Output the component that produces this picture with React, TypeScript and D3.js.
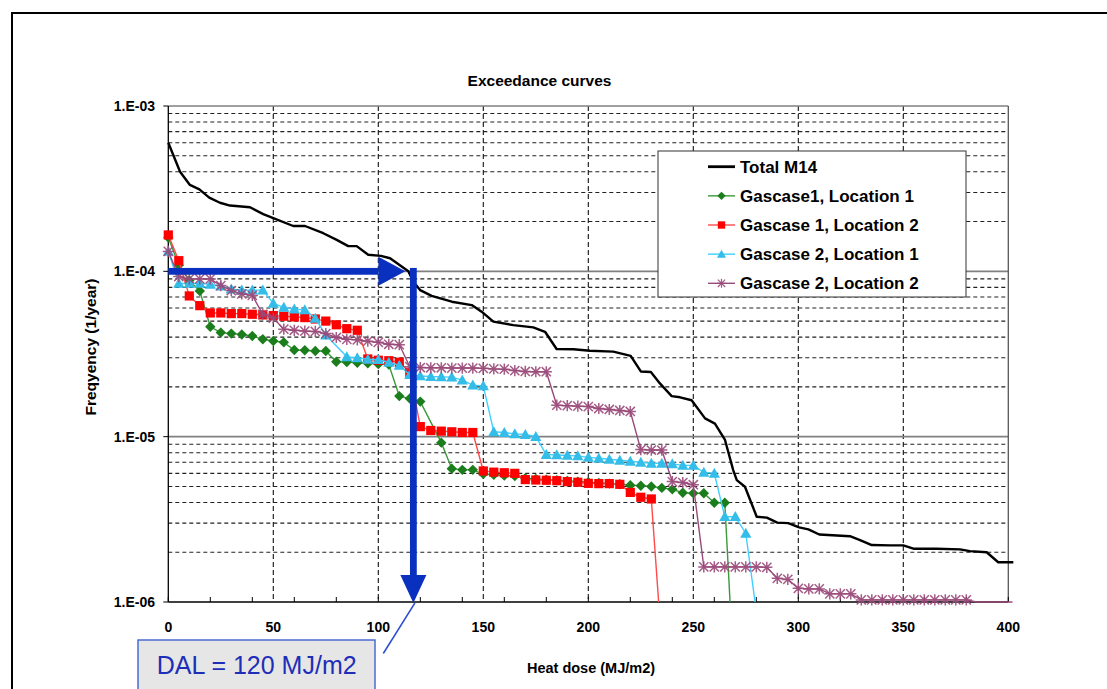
import React from 'react';
import * as d3 from 'd3';

// heat dose (MJ/m2) vs exceedance frequency (1/year)
const xTickValues = [0, 50, 100, 150, 200, 250, 300, 350, 400];
const xMinorTicks = d3.range(0, 401, 20);
const yDecades = [1e-3, 1e-4, 1e-5, 1e-6];
const yTickLabels = ['1.E-03', '1.E-04', '1.E-05', '1.E-06'];

const totalM14: [number, number][] = [
  [0, 6.0e-4], [5.6, 4.0e-4], [10.3, 3.33e-4], [14.8, 3.13e-4], [19.5, 2.79e-4], [24.6, 2.6e-4],
  [29.4, 2.5e-4], [38.9, 2.44e-4], [45.2, 2.22e-4], [50, 2.1e-4], [59.5, 1.88e-4], [65.1, 1.88e-4],
  [73.8, 1.7e-4], [80.2, 1.55e-4], [85.7, 1.42e-4], [89.7, 1.42e-4], [95.2, 1.26e-4], [101.2, 1.24e-4],
  [105.6, 1.2e-4], [114.3, 1.0e-4], [116.7, 8.65e-5], [119.9, 7.7e-5], [125.4, 7.1e-5], [135, 6.55e-5],
  [144.5, 6.25e-5], [149.2, 5.7e-5], [154.8, 4.96e-5], [164.3, 4.73e-5], [173.8, 4.58e-5], [179.4, 4.31e-5],
  [184.9, 3.39e-5], [192.9, 3.38e-5], [200.8, 3.31e-5], [211.9, 3.27e-5], [220.2, 3.08e-5], [225, 2.48e-5],
  [229.8, 2.46e-5], [234.1, 2.1e-5], [239.7, 1.76e-5], [243.7, 1.73e-5], [249.2, 1.66e-5], [255.6, 1.29e-5],
  [260.3, 1.2e-5], [265.1, 9.55e-6], [269, 6.28e-6], [270.7, 5.46e-6], [274.6, 4.98e-6], [280.2, 3.28e-6],
  [285, 3.24e-6], [290, 3.02e-6], [295.2, 3.0e-6], [300.4, 2.83e-6], [304.8, 2.75e-6], [310, 2.56e-6],
  [324.6, 2.5e-6], [329.4, 2.37e-6], [335, 2.21e-6], [343.7, 2.2e-6], [350, 2.2e-6], [354.8, 2.1e-6],
  [365.9, 2.1e-6], [377, 2.08e-6], [381.7, 2.03e-6], [389.7, 2.0e-6], [395.2, 1.74e-6], [402.4, 1.74e-6],
];

const gascase1Loc1: [number, number][] = [
  [0, 1.6e-4], [5, 1.09e-4], [10, 8.8e-5], [15, 7.6e-5], [20, 4.62e-5], [25, 4.26e-5], [30, 4.2e-5],
  [35, 4.15e-5], [40, 4.06e-5], [45, 3.88e-5], [50, 3.79e-5], [55, 3.72e-5], [60, 3.34e-5], [65, 3.33e-5],
  [70, 3.3e-5], [75, 3.3e-5], [80, 2.84e-5], [85, 2.83e-5], [90, 2.8e-5], [95, 2.78e-5], [100, 2.75e-5],
  [105, 2.73e-5], [110, 1.76e-5], [115, 1.7e-5], [120, 1.63e-5], [130, 9.2e-6], [135, 6.4e-6],
  [140, 6.3e-6], [145, 6.3e-6], [150, 5.94e-6], [155, 5.88e-6], [160, 5.82e-6], [165, 5.78e-6],
  [170, 5.6e-6], [175, 5.55e-6], [180, 5.5e-6], [185, 5.45e-6], [190, 5.4e-6], [195, 5.35e-6],
  [200, 5.3e-6], [205, 5.25e-6], [210, 5.2e-6], [215, 5.15e-6], [220, 5.09e-6], [225, 5.05e-6],
  [230, 5.0e-6], [235, 4.9e-6], [240, 4.8e-6], [245, 4.58e-6], [250, 4.55e-6], [255, 4.55e-6],
  [260, 3.98e-6], [265, 3.98e-6], [267.5, 5e-7],
];

const gascase1Loc2: [number, number][] = [
  [0, 1.66e-4], [5, 1.16e-4], [10, 7.1e-5], [15, 6.2e-5], [20, 5.6e-5], [25, 5.6e-5], [30, 5.55e-5],
  [35, 5.55e-5], [40, 5.5e-5], [45, 5.45e-5], [50, 5.4e-5], [55, 5.35e-5], [60, 5.3e-5], [65, 5.25e-5],
  [70, 5.15e-5], [75, 5.0e-5], [80, 4.75e-5], [85, 4.5e-5], [90, 4.4e-5], [95, 2.95e-5], [100, 2.9e-5],
  [105, 2.88e-5], [110, 2.82e-5], [115, 2.45e-5], [120, 1.15e-5], [125, 1.09e-5], [130, 1.08e-5],
  [135, 1.07e-5], [140, 1.06e-5], [145, 1.06e-5], [150, 6.2e-6], [155, 6.1e-6], [160, 6.05e-6],
  [165, 6.0e-6], [170, 5.5e-6], [175, 5.47e-6], [180, 5.45e-6], [185, 5.42e-6], [190, 5.35e-6],
  [195, 5.3e-6], [200, 5.22e-6], [205, 5.2e-6], [210, 5.2e-6], [215, 5.15e-6], [220, 4.6e-6],
  [225, 4.3e-6], [230, 4.2e-6], [233.5, 5e-7],
];

const gascase2Loc1: [number, number][] = [
  [0, 1.32e-4], [5, 8.45e-5], [10, 8.45e-5], [15, 8.45e-5], [20, 8.35e-5], [25, 8.15e-5], [30, 7.8e-5],
  [35, 7.7e-5], [40, 7.7e-5], [45, 7.7e-5], [50, 6.4e-5], [55, 6.05e-5], [60, 5.9e-5], [65, 5.85e-5],
  [70, 5.2e-5], [75, 4.12e-5], [85, 3.04e-5], [90, 3.0e-5], [95, 2.94e-5], [100, 2.92e-5], [105, 2.82e-5],
  [110, 2.7e-5], [115, 2.37e-5], [120, 2.33e-5], [125, 2.31e-5], [130, 2.3e-5], [135, 2.29e-5],
  [140, 2.2e-5], [145, 2.05e-5], [150, 2.03e-5], [155, 1.07e-5], [160, 1.06e-5], [165, 1.04e-5],
  [170, 1.03e-5], [175, 1.0e-5], [180, 7.8e-6], [185, 7.75e-6], [190, 7.7e-6], [195, 7.65e-6],
  [200, 7.5e-6], [205, 7.4e-6], [210, 7.3e-6], [215, 7.2e-6], [220, 7.1e-6], [225, 7.0e-6],
  [230, 6.9e-6], [235, 6.9e-6], [240, 6.85e-6], [245, 6.7e-6], [250, 6.7e-6], [255, 6.08e-6],
  [260, 6.0e-6], [265, 3.28e-6], [270, 3.28e-6], [275, 2.6e-6], [279.4, 5e-7],
];

const gascase2Loc2: [number, number][] = [
  [0, 1.32e-4], [5, 9.3e-5], [10, 9.0e-5], [15, 9.0e-5], [20, 9.0e-5], [25, 8.2e-5], [30, 7.65e-5],
  [35, 7.3e-5], [40, 7.15e-5], [45, 5.5e-5], [50, 5.22e-5], [55, 4.47e-5], [60, 4.4e-5], [65, 4.35e-5],
  [70, 4.33e-5], [75, 4.2e-5], [80, 3.98e-5], [85, 3.88e-5], [90, 3.85e-5], [95, 3.78e-5], [100, 3.72e-5],
  [105, 3.62e-5], [110, 3.6e-5], [115, 2.65e-5], [120, 2.62e-5], [125, 2.61e-5], [130, 2.61e-5],
  [135, 2.6e-5], [140, 2.6e-5], [145, 2.6e-5], [150, 2.59e-5], [155, 2.57e-5], [160, 2.56e-5],
  [165, 2.51e-5], [170, 2.48e-5], [175, 2.47e-5], [180, 2.47e-5], [185, 1.55e-5], [190, 1.54e-5],
  [195, 1.53e-5], [200, 1.52e-5], [205, 1.48e-5], [210, 1.46e-5], [215, 1.44e-5], [220, 1.42e-5],
  [225, 8.35e-6], [230, 8.3e-6], [235, 8.3e-6], [240, 5.35e-6], [245, 5.28e-6], [250, 5.12e-6],
  [255, 1.63e-6], [260, 1.63e-6], [265, 1.63e-6], [270, 1.63e-6], [275, 1.63e-6], [280, 1.63e-6],
  [285, 1.62e-6], [290, 1.39e-6], [295, 1.37e-6], [300, 1.21e-6], [305, 1.2e-6], [310, 1.2e-6],
  [315, 1.12e-6], [320, 1.12e-6], [325, 1.12e-6], [330, 1.03e-6], [335, 1.03e-6], [340, 1.03e-6],
  [345, 1.03e-6], [350, 1.03e-6], [355, 1.03e-6], [360, 1.03e-6], [365, 1.03e-6], [370, 1.03e-6],
  [375, 1.03e-6], [380, 1.03e-6], [385, 9e-7], [402, 9e-7],
];

// DAL annotation (arrow meets the total curve)
const dalDose = 116.7;
const dalFreq = 1e-4;

const FONT = '"Liberation Sans", Arial, sans-serif';

type Marker = 'none' | 'diamond' | 'square' | 'triangle' | 'star';

const seriesDefs = [
  { name: 'Total M14', data: totalM14, line: '#000000', fill: '#000000', width: 2.4, marker: 'none' as Marker },
  { name: 'Gascase1, Location 1', data: gascase1Loc1, line: '#3a9a3a', fill: '#1b7d1b', width: 1.4, marker: 'diamond' as Marker },
  { name: 'Gascase 1, Location 2', data: gascase1Loc2, line: '#ff4a4a', fill: '#ff0000', width: 1.4, marker: 'square' as Marker },
  { name: 'Gascase 2, Location 1', data: gascase2Loc1, line: '#3fd0ff', fill: '#33bde8', width: 1.4, marker: 'triangle' as Marker },
  { name: 'Gascase 2, Location 2', data: gascase2Loc2, line: '#9a4a7a', fill: '#9a4a7a', width: 1.4, marker: 'star' as Marker },
];

function MarkerShape({ type, x, y, color, s = 1 }: { type: Marker; x: number; y: number; color: string; s?: number }) {
  const t = `translate(${x},${y}) scale(${s})`;
  if (type === 'diamond') return <path transform={t} d="M0,-5.2L5.2,0L0,5.2L-5.2,0Z" fill={color} />;
  if (type === 'square') return <rect transform={t} x={-4.6} y={-4.6} width={9.2} height={9.2} fill={color} />;
  if (type === 'triangle') return <path transform={t} d="M0,-5.6L5.6,4.4L-5.6,4.4Z" fill={color} />;
  if (type === 'star')
    return (
      <path transform={t} d="M-4.6,-4.6L4.6,4.6M-4.6,4.6L4.6,-4.6M0,-5.6L0,5.6M-5.6,0L5.6,0" stroke={color} strokeWidth={1.5} fill="none" opacity={0.9} />
    );
  return null;
}

export default function App() {
  const xs = d3.scaleLinear().domain([0, 400]).range([168.3, 1008.3]);
  const ys = d3.scaleLog().domain([1e-6, 1e-3]).range([602, 106]).clamp(true);
  const line = d3.line<[number, number]>().x(d => xs(d[0])).y(d => ys(d[1]));

  const left = xs(0), right = xs(400), top = ys(1e-3), bottom = ys(1e-6);
  const minorY: number[] = [];
  [1e-6, 1e-5, 1e-4].forEach(d => d3.range(2, 10).forEach(k => minorY.push(d * k)));

  // arrows
  const ay = ys(dalFreq);
  const ax = xs(dalDose);
  const hTip = ax - 8;
  const vTip = bottom + 1;
  const blue = '#0a30c0';

  return (
    <svg width={1107} height={689} style={{ position: 'absolute', left: 0, top: 0, background: '#fff' }} fontFamily={FONT}>
      <rect x={12} y={13} width={1200} height={800} fill="none" stroke="#000" strokeWidth={2} />

      <text x={539.5} y={86} textAnchor="middle" fontSize={15.5} fontWeight="bold">Exceedance curves</text>

      {/* gridlines */}
      {minorY.map(v => (
        <line key={'m' + v} x1={left} x2={right} y1={ys(v)} y2={ys(v)} stroke="#222" strokeWidth={1.1} strokeDasharray="4,3" />
      ))}
      {xTickValues.slice(1, -1).map(v => (
        <line key={'vx' + v} x1={xs(v)} x2={xs(v)} y1={top} y2={bottom} stroke="#111" strokeWidth={1.1} strokeDasharray="5,3" />
      ))}
      {[1e-3, 1e-4, 1e-5].map(v => (
        <line key={'d' + v} x1={left} x2={right} y1={ys(v)} y2={ys(v)} stroke="#808080" strokeWidth={1.6} />
      ))}
      <line x1={right} x2={right} y1={top} y2={bottom} stroke="#555" strokeWidth={1.3} />

      {/* axes */}
      <line x1={left} x2={left} y1={top} y2={bottom} stroke="#000" strokeWidth={1.3} />
      <line x1={left} x2={right} y1={bottom} y2={bottom} stroke="#000" strokeWidth={1.3} />
      {yDecades.map(v => (
        <line key={'yt' + v} x1={left - 5} x2={left} y1={ys(v)} y2={ys(v)} stroke="#000" strokeWidth={1} />
      ))}
      {xMinorTicks.map(v => (
        <line key={'xt' + v} x1={xs(v)} x2={xs(v)} y1={bottom - 5} y2={bottom} stroke="#000" strokeWidth={1} />
      ))}
      {yDecades.map((v, i) => (
        <text key={'yl' + v} x={155} y={ys(v) + 5} textAnchor="end" fontSize={14} fontWeight="bold">{yTickLabels[i]}</text>
      ))}
      {xTickValues.map(v => (
        <text key={'xl' + v} x={xs(v)} y={632} textAnchor="middle" fontSize={14} fontWeight="bold">{v}</text>
      ))}
      <text x={591} y={673} textAnchor="middle" fontSize={14.5} fontWeight="bold">Heat dose (MJ/m2)</text>
      <text transform="translate(96,347) rotate(-90)" textAnchor="middle" fontSize={15.5} fontWeight="bold">Freqyency (1/year)</text>

      {/* series */}
      {seriesDefs.slice(1).map(s => (
        <g key={s.name}>
          <path d={line(s.data) || ''} fill="none" stroke={s.line} strokeWidth={s.width} />
          {s.data.filter(d => d[1] >= 1e-6).map((d, i) => (
            <MarkerShape key={i} type={s.marker} x={xs(d[0])} y={ys(d[1])} color={s.fill} />
          ))}
        </g>
      ))}
      <path d={line(totalM14) || ''} fill="none" stroke="#000" strokeWidth={2.4} strokeLinejoin="round" />

      {/* legend */}
      <rect x={658} y={151} width={308} height={146} fill="#fff" stroke="#333" strokeWidth={1} />
      {seriesDefs.map((s, i) => {
        const ly = 166.7 + i * 29.15;
        return (
          <g key={'lg' + s.name}>
            <line x1={708} x2={735} y1={ly} y2={ly} stroke={s.line} strokeWidth={i === 0 ? 2.8 : 1.4} />
            <MarkerShape type={s.marker} x={721.5} y={ly} color={s.fill} s={0.8} />
            <text x={740} y={ly + 6} fontSize={17} fontWeight="bold">{s.name}</text>
          </g>
        );
      })}

      {/* DAL arrows */}
      <rect x={left} y={ay - 3.4} width={hTip - 27 - left} height={6.8} fill={blue} />
      <path d={`M${hTip - 27},${ay - 14.5}L${hTip},${ay}L${hTip - 27},${ay + 14.5}Z`} fill={blue} />
      <rect x={ax - 3.4} y={ay - 3.4} width={6.8} height={vTip - 28 - (ay - 3.4)} fill={blue} />
      <path d={`M${ax - 13},${vTip - 28}L${ax},${vTip}L${ax + 13},${vTip - 28}Z`} fill={blue} />

      <line x1={383.3} y1={653.5} x2={ax + 1.5} y2={vTip} stroke="#2c4fd0" strokeWidth={1.5} />
      <rect x={138} y={640} width={237} height={70} fill="#e6e6e6" stroke="#4a6cd4" strokeWidth={1.5} />
      <text x={256.7} y={674} textAnchor="middle" fontSize={25} fill="#1e2eb8">DAL = 120 MJ/m2</text>
    </svg>
  );
}
